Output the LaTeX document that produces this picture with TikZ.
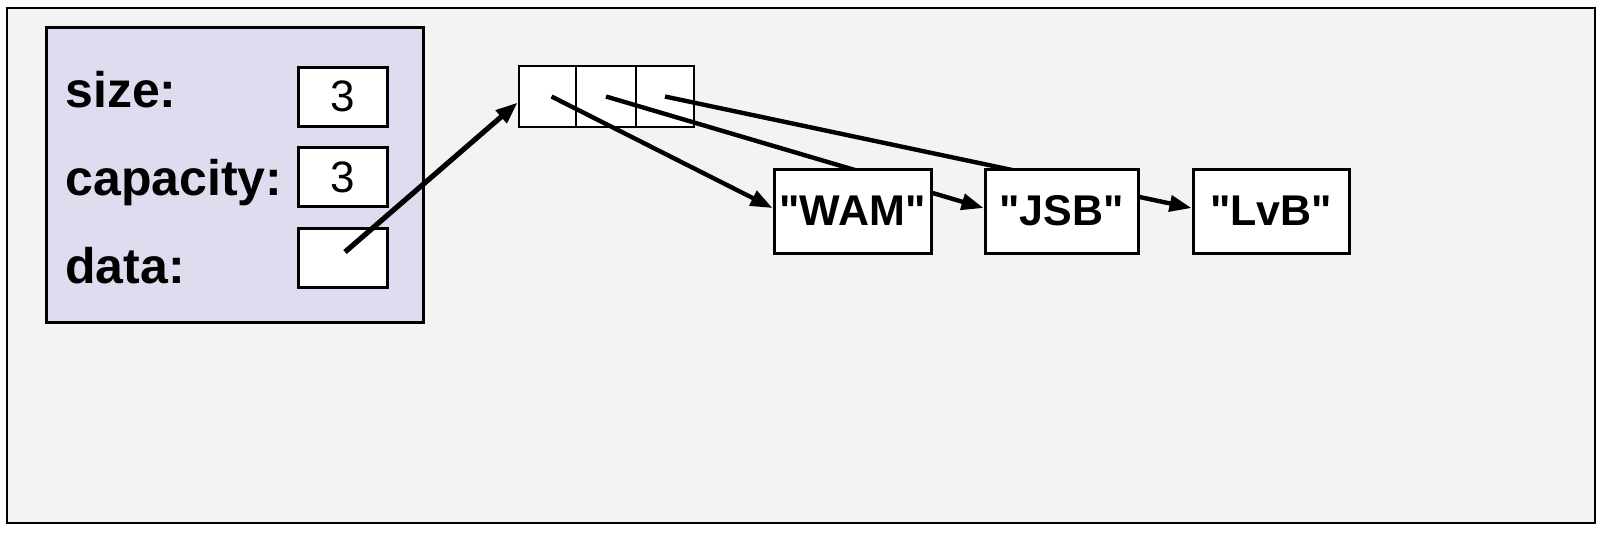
\documentclass[tikz,border=0pt]{standalone}
\usepackage{fontspec}
\setmainfont{Liberation Sans}
\usetikzlibrary{arrows.meta}
\pgfdeclarelayer{back}
\pgfdeclarelayer{mid}
\pgfsetlayers{back,mid,main}
\definecolor{lav}{RGB}{222,220,238}
\definecolor{bgg}{RGB}{243,243,243}
\newcommand{\qq}{\textquotedbl}
\tikzset{
  valbox/.style={draw=black, line width=1.5pt, fill=white, minimum width=44.5pt, minimum height=29.5pt, inner sep=0pt, font=\fontsize{22}{22}\selectfont},
  cellbox/.style={draw=black, line width=1.3pt, fill=white, minimum height=30.5pt, inner sep=0pt},
  strbox/.style={draw=black, line width=1.5pt, fill=white, minimum height=42pt, inner sep=0pt, font=\fontsize{21.5}{21.5}\selectfont\bfseries},
  lbl/.style={anchor=base west, inner sep=0pt, font=\fontsize{25}{25}\selectfont\bfseries},
  ptr/.style={line width=2.2pt, -{Triangle[length=11pt,width=8pt]}},
}
\begin{document}
\begin{tikzpicture}[x=0.5pt, y=-0.5pt]
\useasboundingbox (0,0) rectangle (1606,532);
\begin{pgfonlayer}{back}
  \fill[white] (0,0) rectangle (1606,532);
  \draw[line width=1.3pt, fill=bgg] (7,8) rectangle (1595,523);
  \draw[line width=1.5pt, fill=lav] (46,27) rectangle (423,322);
  \node[lbl] (lsize) at (65,107) {size:};
  \node[lbl] (lcap) at (65,195) {capacity:};
  \node[lbl] (ldata) at (65,283) {data:};
  \node[valbox] (size) at (342.5,96.5) {3};
  \node[valbox] (cap) at (342.5,177) {3};
  \node[valbox] (data) at (342.5,258) {};
  \node[cellbox, minimum width=28.5pt] (c1) at (547.5,96.5) {};
  \node[cellbox, minimum width=30pt] (c2) at (606,96.5) {};
  \node[cellbox, minimum width=29pt] (c3) at (665,96.5) {};
\end{pgfonlayer}
\node[strbox, minimum width=78.5pt] (wam) at (852.5,211) {\qq WAM\qq};
\node[strbox, minimum width=76.5pt] (jsb) at (1061.5,211) {\qq JSB\qq};
\node[strbox, minimum width=78pt] (lvb) at (1271,211) {\qq LvB\qq};
\coordinate (dstart) at (345,252);
\begin{pgfonlayer}{mid}
  \draw[ptr, line width=2.6pt] (dstart) -- ([yshift=-3pt]c1.west);
  \draw[ptr] ([xshift=2pt]c1.center) -- ([yshift=1.5pt]wam.west);
  \draw[ptr] (c2.center) -- ([yshift=1.5pt]jsb.west);
  \draw[ptr] (c3.center) -- ([yshift=1.5pt]lvb.west);
\end{pgfonlayer}
\end{tikzpicture}
\end{document}
